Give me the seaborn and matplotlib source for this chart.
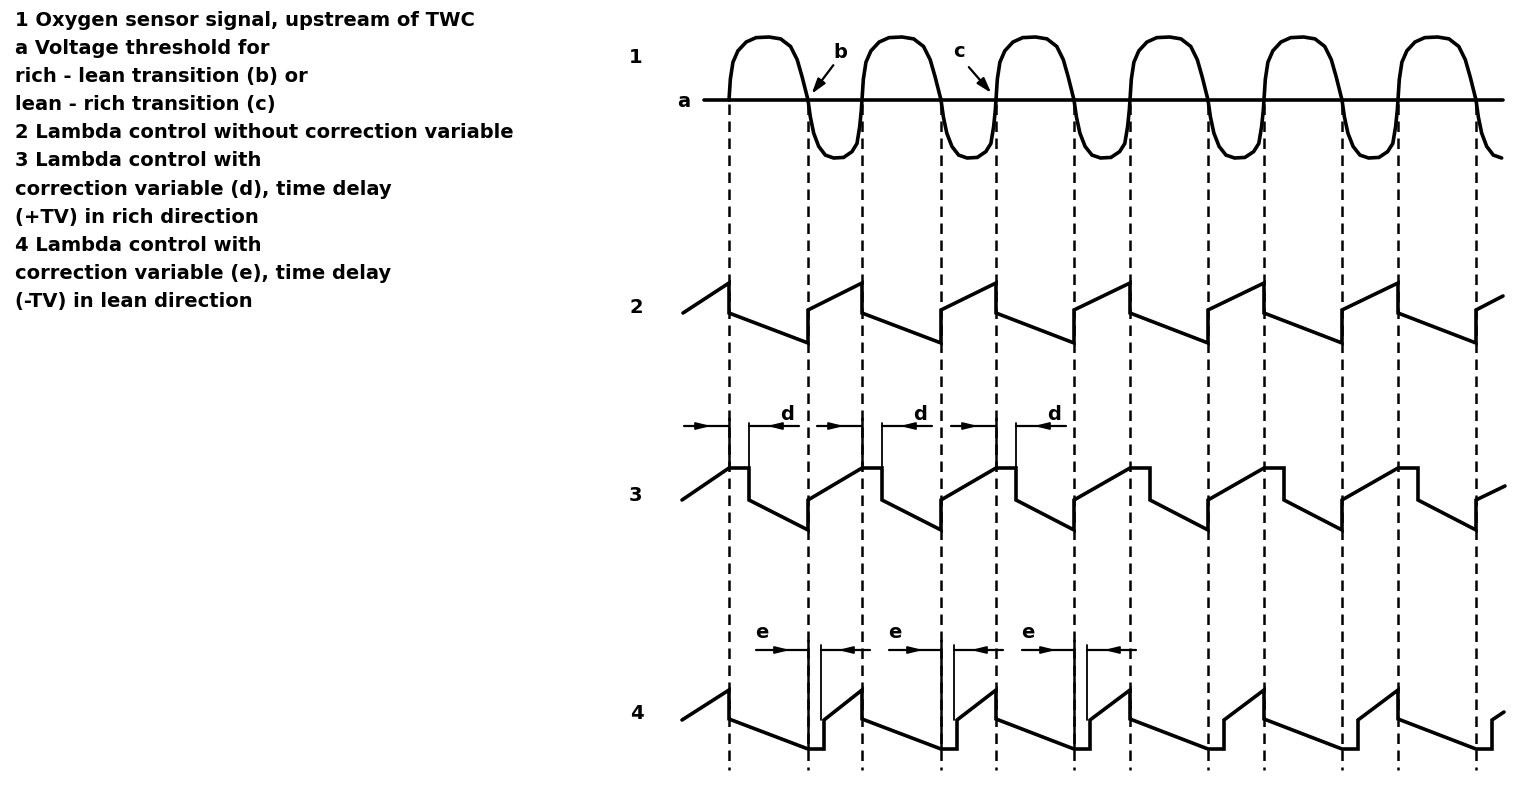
import numpy as np
import pandas as pd
import matplotlib
matplotlib.use("Agg")
import matplotlib.pyplot as plt
import seaborn as sns

# crossing times of sensor signal with threshold (time axis in px of the drawing)
rise_x = [729, 862, 996, 1130, 1264, 1398]
fall_x = [808, 941, 1074, 1208, 1342, 1476]

# sensor signal 1
threshold_y = 100
threshold_span = [704, 1503]
peak_y = 37
trough_y = 158
high_t = [0, .017, .05, .113, .217, .342, .508, .654, .779, .863, .925, .967, 1]
high_h = [0, .33, .60, .78, .92, .99, 1.0, .97, .85, .64, .37, .16, 0]
low_t = [0, .043, .105, .198, .321, .475, .66, .815, .907, .957, .988, 1]
low_d = [0, .29, .57, .80, .95, 1.0, .99, .89, .75, .46, .17, 0]
last_low_width = 54

# signal 2: without correction
s2_levels = {"top": 283, "drop": 313, "bottom": 343, "jump": 310}
s2_start = (683, 313)
s2_end = (1503, 296)

# signal 3: delay d in rich direction
s3_levels = {"top": 468, "drop": 500, "bottom": 530, "jump": 500}
s3_start = (682, 500)
s3_end = (1505, 486)
d_delay = 20

# signal 4: delay e in lean direction
s4_levels = {"top": 690, "drop": 719, "bottom": 749, "jump": 720}
s4_start = (682, 720)
s4_end = (1504, 712)
e_delay = 16

legend_lines = [
    "1 Oxygen sensor signal, upstream of TWC",
    "a Voltage threshold for",
    "rich - lean transition (b) or",
    "lean - rich transition (c)",
    "2 Lambda control without correction variable",
    "3 Lambda control with",
    "correction variable (d), time delay",
    "(+TV) in rich direction",
    "4 Lambda control with",
    "correction variable (e), time delay",
    "(-TV) in lean direction",
]

# ---- build traces
sx, sy = [], []
nexts = rise_x[1:] + [None]
for r, f, n in zip(rise_x, fall_x, nexts):
    for t, h in zip(high_t, high_h):
        sx.append(r + t * (f - r))
        sy.append(threshold_y - h * (threshold_y - peak_y))
    w = (n - f) if n else last_low_width
    for t, d in zip(low_t[1:], low_d[1:]):
        if n is None and t > 0.5:
            break
        sx.append(f + t * w)
        sy.append(threshold_y + d * (trough_y - threshold_y))
sensor = pd.DataFrame({"x": sx, "y": sy})

def sawtooth(levels, start, end, d_hold=0, e_hold=0):
    pts = [start]
    for r, f in zip(rise_x, fall_x):
        pts += [(r, levels["top"])]
        if d_hold:
            pts += [(r + d_hold, levels["top"])]
        pts += [(r + d_hold, levels["drop"]), (f, levels["bottom"])]
        if e_hold:
            pts += [(f + e_hold, levels["bottom"])]
        pts += [(f + e_hold, levels["jump"])]
    pts.append(end)
    return pd.DataFrame(pts, columns=["x", "y"])

s2 = sawtooth(s2_levels, s2_start, s2_end)
s3 = sawtooth(s3_levels, s3_start, s3_end, d_hold=d_delay)
s4 = sawtooth(s4_levels, s4_start, s4_end, e_hold=e_delay)

# ---- draw
sns.set_style("white")
plt.rcParams["font.family"] = ["DejaVu Sans"]
fig = plt.figure(figsize=(15.36, 7.9), dpi=100)
ax = fig.add_axes([0, 0, 1, 1])
ax.set_xlim(0, 1536)
ax.set_ylim(790, 0)
ax.axis("off")

trace_kw = dict(sort=False, estimator=None, color="black", lw=2.6,
                solid_joinstyle="miter", ax=ax, legend=False)
ax.vlines(sorted(rise_x + fall_x), threshold_y + 4, 770, colors="black",
          lw=1.8, linestyles=(0, (4.2, 2.6)))
ax.plot(threshold_span, [threshold_y, threshold_y], color="black", lw=2.6)
for df in (sensor, s2, s3, s4):
    sns.lineplot(data=df, x="x", y="y", **trace_kw)

tkw = dict(fontsize=14, fontweight="bold", color="black")
for i, line in enumerate(legend_lines):
    ax.text(15, 26 + i * 28.1, line, ha="left", va="baseline", **tkw)

for lab, x, y in [("1", 636, 63), ("a", 684, 107), ("2", 636, 313),
                  ("3", 635, 501), ("4", 637, 719)]:
    ax.text(x, y, lab, ha="center", va="baseline", **tkw)

ax.text(840, 58, "b", ha="center", va="baseline", **tkw)
ax.text(959, 57, "c", ha="center", va="baseline", **tkw)
head = "-|>,head_length=0.9,head_width=0.28"
ax.annotate("", xy=(810, 96), xytext=(835, 63),
            arrowprops=dict(arrowstyle=head, color="black", lw=1.6))
ax.annotate("", xy=(993, 95), xytext=(967, 65),
            arrowprops=dict(arrowstyle=head, color="black", lw=1.6))

small_head = "-|>,head_length=0.9,head_width=0.22"
dy = 426
for r in rise_x[:3]:
    ax.plot([r - 45, r], [dy, dy], color="black", lw=1.6)
    ax.plot([r + d_delay, r + 70], [dy, dy], color="black", lw=1.6)
    ax.annotate("", xy=(r - 18, dy), xytext=(r - 30, dy),
                arrowprops=dict(arrowstyle=small_head, color="black", lw=1.2,
                                shrinkA=0, shrinkB=0))
    ax.annotate("", xy=(r + 38, dy), xytext=(r + 50, dy),
                arrowprops=dict(arrowstyle=small_head, color="black", lw=1.2,
                                shrinkA=0, shrinkB=0))
    ax.plot([r, r], [dy - 8, s3_levels["top"]], color="black", lw=1.8)
    ax.plot([r + d_delay, r + d_delay], [dy - 3, s3_levels["top"]], color="black", lw=1.3)
    ax.text(r + 58, 420, "d", ha="center", va="baseline", **tkw)

ey = 650
for f in fall_x[:3]:
    ax.plot([f - 52, f], [ey, ey], color="black", lw=1.6)
    ax.plot([f + e_delay - 3, f + 62], [ey, ey], color="black", lw=1.6)
    ax.annotate("", xy=(f - 18, ey), xytext=(f - 32, ey),
                arrowprops=dict(arrowstyle=small_head, color="black", lw=1.2,
                                shrinkA=0, shrinkB=0))
    ax.annotate("", xy=(f + 30, ey), xytext=(f + 44, ey),
                arrowprops=dict(arrowstyle=small_head, color="black", lw=1.2,
                                shrinkA=0, shrinkB=0))
    ax.plot([f, f], [ey - 10, s4_levels["bottom"]], color="black", lw=1.8)
    ax.plot([f + e_delay - 3, f + e_delay - 3], [ey - 5, s4_levels["jump"]],
            color="black", lw=1.3)
    ax.text(f - 46, 638, "e", ha="center", va="baseline", **tkw)

fig.savefig("out.png", dpi=100, facecolor="white")
